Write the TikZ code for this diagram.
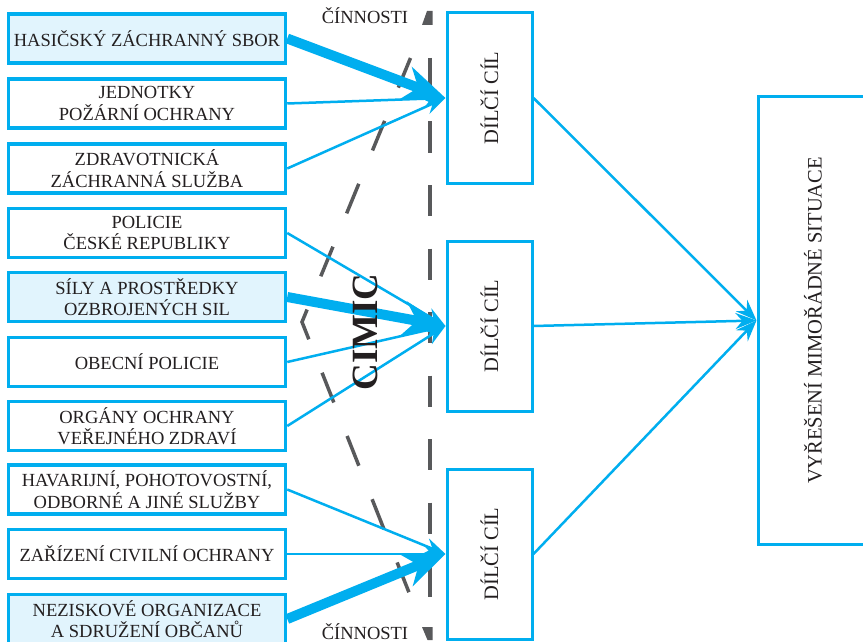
\documentclass[tikz,border=0pt]{standalone}
\usepackage{fontspec}
\setmainfont{Liberation Serif}
\usetikzlibrary{arrows.meta}
\definecolor{cyanb}{HTML}{00AEEF}
\definecolor{lightb}{HTML}{E1F4FD}
\definecolor{dgray}{HTML}{58595B}
\definecolor{txt}{HTML}{231F20}
\begin{document}
\begin{tikzpicture}[x=1pt,y=-1pt,
  agency/.style={draw=cyanb, line width=3.5pt, minimum width=277pt, minimum height=49pt, inner sep=0pt, align=center, font=\fontsize{18.5}{21.5}\selectfont, text=txt},
  leadagency/.style={agency, fill=lightb},
  goalbox/.style={draw=cyanb, line width=3pt, minimum width=85pt, minimum height=170pt, inner sep=0pt},
  vlabel/.style={rotate=90, font=\fontsize{20.5}{24}\selectfont, text=txt, inner sep=0pt},
  thinarrow/.style={draw=cyanb, line width=2.5pt, -{Stealth[length=21pt,width=16pt,inset=7pt]}},
  thickarrow/.style={draw=cyanb, line width=10pt, -{Stealth[length=42pt,width=34pt,inset=13pt]}},
  actline/.style={draw=dgray, line width=3.5pt},
  actlabel/.style={font=\fontsize{18.5}{21.5}\selectfont, text=txt, inner sep=0pt, anchor=base}
]
\fill[white] (0,0) rectangle (863,642);
\useasboundingbox (0,0) rectangle (863,642);

% activity lines (dashed)
\draw[actline, dash pattern=on 31pt off 32.5pt] (430,58) -- (430,597);
\draw[actline, dash pattern=on 32pt off 36pt, line join=miter] (410.5,58) -- (302,322) -- (410,595);
\fill[dgray] (422,25) -- (427,11) -- (432.5,11) -- (432.5,25) -- cycle;
\fill[dgray] (422,627) -- (432.5,627) -- (432.5,640) -- (427.5,640) -- cycle;
\node[actlabel] (act1) at (365,24) {ČÍNNOSTI};
\node[actlabel] (act2) at (365,639) {ČÍNNOSTI};

% left column
\node[leadagency] (h1) at (147,38.5) {HASIČSKÝ ZÁCHRANNÝ SBOR};
\node[agency] (h2) at (147,103.5) {JEDNOTKY\\POŽÁRNÍ OCHRANY};
\node[agency] (h3) at (147,168.5) {ZDRAVOTNICKÁ\\ZÁCHRANNÁ SLUŽBA};
\node[agency] (h4) at (147,233) {POLICIE\\ČESKÉ REPUBLIKY};
\node[leadagency] (h5) at (147,297) {SÍLY A PROSTŘEDKY\\OZBROJENÝCH SIL};
\node[agency] (h6) at (147,362) {OBECNÍ POLICIE};
\node[agency] (h7) at (147,426) {ORGÁNY OCHRANY\\VEŘEJNÉHO ZDRAVÍ};
\node[agency] (h8) at (147,489.5) {HAVARIJNÍ, POHOTOVOSTNÍ,\\ODBORNÉ A JINÉ SLUŽBY};
\node[agency] (h9) at (147,554) {ZAŘÍZENÍ CIVILNÍ OCHRANY};
\node[leadagency] (h10) at (147,619) {NEZISKOVÉ ORGANIZACE\\A SDRUŽENÍ OBČANŮ};

% goal boxes
\node[goalbox] (c1) at (489.5,98) {};
\node[goalbox] (c2) at (489.5,326) {};
\node[goalbox] (c3) at (489.5,554) {};
\node[vlabel] (t1) at (c1) {DÍLČÍ CÍL};
\node[vlabel] (t2) at (c2) {DÍLČÍ CÍL};
\node[vlabel] (t3) at (c3) {DÍLČÍ CÍL};

\node[goalbox, minimum width=110pt, minimum height=447pt] (r) at (813,320.5) {};
\node[vlabel] (rt) at (r) {VYŘEŠENÍ MIMOŘÁDNÉ SITUACE};

% connectors
\draw[thickarrow] (h1.east) -- (c1.west);
\draw[thinarrow] (h2.east) -- (c1.west);
\draw[thinarrow] (h3.east) -- (c1.west);
\draw[thinarrow] (h4.east) -- (c2.west);
\draw[thickarrow] (h5.east) -- (c2.west);
\draw[thinarrow] (h6.east) -- (c2.west);
\draw[thinarrow] (h7.east) -- (c2.west);
\draw[thinarrow] (h8.east) -- (c3.west);
\draw[thinarrow] (h9.east) -- (c3.west);
\draw[thickarrow] (h10.east) -- (c3.west);
\draw[thinarrow] (c1.east) -- (r.west);
\draw[thinarrow] (c2.east) -- (r.west);
\draw[thinarrow] (c3.east) -- (r.west);

\node[rotate=90, font=\fontsize{37}{37}\selectfont\bfseries, text=txt, inner sep=0pt] (cimic) at (365,332) {CIMIC};
\end{tikzpicture}
\end{document}
